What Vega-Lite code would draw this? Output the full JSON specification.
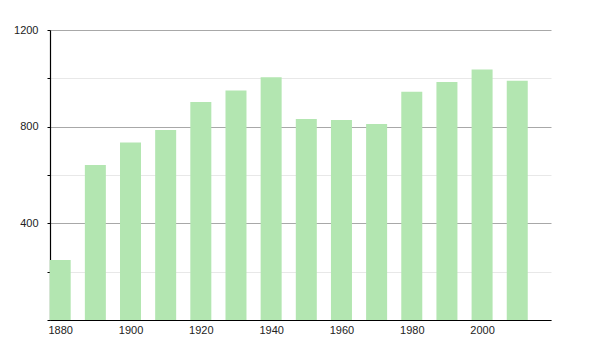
{
  "$schema": "https://vega.github.io/schema/vega-lite/v6.json",
  "autosize": "none",
  "width": 501,
  "height": 290,
  "padding": {"left": 50, "top": 30, "right": 49, "bottom": 30},
  "background": "white",
  "config": {"view": {"stroke": null}, "font": "Liberation Sans"},
  "data": {"values": [
    {"year": 1880, "pop": 248},
    {"year": 1890, "pop": 641},
    {"year": 1900, "pop": 735},
    {"year": 1910, "pop": 786},
    {"year": 1920, "pop": 902},
    {"year": 1930, "pop": 950},
    {"year": 1940, "pop": 1005},
    {"year": 1950, "pop": 832},
    {"year": 1960, "pop": 828},
    {"year": 1970, "pop": 811},
    {"year": 1980, "pop": 945},
    {"year": 1990, "pop": 985},
    {"year": 2000, "pop": 1037},
    {"year": 2010, "pop": 990}
  ]},
  "mark": {"type": "bar", "size": 21, "color": "#b3e6b1"},
  "encoding": {
    "x": {
      "field": "year", "type": "quantitative",
      "scale": {"domain": [1877.1, 2019.6], "nice": false, "zero": false, "padding": 0},
      "axis": {
        "title": null, "values": [1880, 1900, 1920, 1940, 1960, 1980, 2000],
        "format": "d", "ticks": false, "grid": false, "labelPadding": 4,
        "domainColor": "#000", "domainWidth": 1.2, "labelFontSize": 11, "labelColor": "#222",
        "labelFlush": false
      }
    },
    "y": {
      "field": "pop", "type": "quantitative",
      "scale": {"domain": [0, 1200], "nice": false},
      "axis": {
        "title": null, "values": [0, 200, 400, 600, 800, 1000, 1200], "format": "d",
        "labelExpr": "datum.value % 400 === 0 && datum.value > 0 ? datum.label : ''",
        "tickSize": 3, "tickColor": "#000", "labelPadding": 9,
        "domainColor": "#000", "domainWidth": 1.2, "labelFontSize": 11, "labelColor": "#222",
        "gridColor": {"condition": {"test": "datum.value % 400 === 0", "value": "#a8a8a8"}, "value": "#e8e8e8"},
        "labelFlush": false
      }
    }
  }
}
